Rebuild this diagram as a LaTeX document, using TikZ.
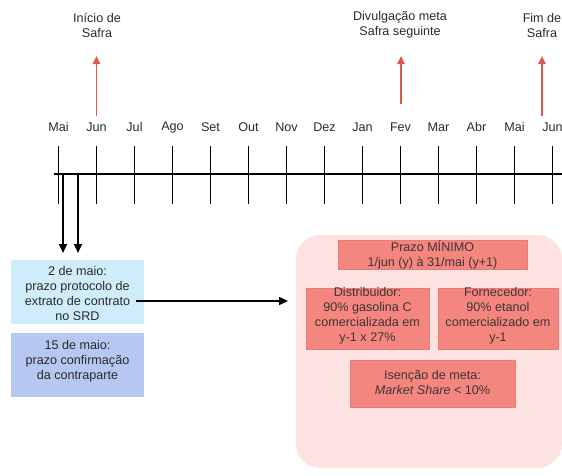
\documentclass[tikz,border=0pt]{standalone}
\usepackage{fontspec}
\setmainfont{Liberation Sans}
\usetikzlibrary{arrows.meta}
\definecolor{inkgray}{HTML}{2A2A2A}
\definecolor{boxtext}{HTML}{3E3636}
\definecolor{sky}{HTML}{CFECFA}
\definecolor{periwinkle}{HTML}{B6C7F2}
\definecolor{salmon}{HTML}{F4857F}
\definecolor{salmonedge}{HTML}{E97A74}
\definecolor{blush}{HTML}{FCE3E1}
\definecolor{alertred}{HTML}{DE5A50}
\newcommand{\txtsize}{\fontsize{12.6}{15}\selectfont}
\begin{document}
\begin{tikzpicture}[x=1pt,y=-1pt,
  every node/.style={inner sep=0pt, outer sep=0pt},
  month/.style={font=\txtsize, text=inkgray},
  toplabel/.style={font=\txtsize, text=inkgray, align=center},
  txt/.style={font=\txtsize, text=inkgray, align=center},
  pinktxt/.style={font=\txtsize, text=boxtext, align=center},
  tick/.style={line width=1.8pt, black},
  axis/.style={line width=1.8pt, black},
  redarrow/.style={line width=1.4pt, alertred, -{Triangle[length=8pt,width=7.5pt]}},
  blackarrow/.style={line width=1.6pt, black, -{Triangle[length=9pt,width=8pt]}},
  deadline/.style={draw=none, minimum width=133pt, minimum height=64pt},
  redbox/.style={fill=salmon, draw=salmonedge, line width=0.6pt}
]
\useasboundingbox (0,0) rectangle (562,475);

% time axis
\coordinate (axstart) at (54,174);
\coordinate (axend) at (562,174);
\draw[axis] (axstart) -- (axend);

% month ticks and names
\foreach \m [count=\i from 0] in {Mai,Jun,Jul,Ago,Set,Out,Nov,Dez,Jan,Fev,Mar,Abr,Mai,Jun}{
  \pgfmathsetmacro{\xx}{58.5+38*\i}
  \coordinate (t\i) at (\xx,146);
  \coordinate (b\i) at (\xx,204);
  \draw[tick] (t\i) -- (b\i);
  \node[month] (m\i) at (\xx,127) {\m};
}

% milestones above the axis
\node[toplabel] (inicio) at (97,25) {Início de\\Safra};
\node[toplabel] (divulg) at (400,25) {Divulgação meta\\Safra seguinte};
\node[toplabel] (fim) at (542,25) {Fim de\\Safra};
\coordinate (ia) at (96.5,116);
\coordinate (ib) at (96.5,56);
\coordinate (da) at (401,104);
\coordinate (db) at (401,56);
\coordinate (fa) at (542,116);
\coordinate (fb) at (542,56);
\draw[redarrow] (ia) -- (ib);
\draw[redarrow] (da) -- (db);
\draw[redarrow] (fa) -- (fb);

% May deadlines
\node[deadline, fill=sky] (srd) at (77.5,292) {};
\node[txt] (srdtxt) at (77.5,293.5) {2 de maio:\\prazo protocolo de\\extrato de contrato\\no SRD};
\node[deadline, fill=periwinkle] (conf) at (77.5,365) {};
\node[txt] (conftxt) at (77.5,361) {15 de maio:\\prazo confirmação\\da contraparte};

\coordinate (d2a) at (63,174);
\coordinate (d15a) at (78,174);
\draw[blackarrow] (d2a) -- (d2a |- 0,253);
\draw[blackarrow] (d15a) -- (d15a |- 0,253);

% contract conditions panel
\node[fill=blush, rounded corners=24pt, minimum width=266pt, minimum height=233pt] (panel) at (429,351.5) {};
\node[redbox, minimum width=189pt, minimum height=29pt] (prazo) at (432.5,254.5) {};
\node[pinktxt] at (prazo) {Prazo MÍNIMO\\1/jun (y) à 31/mai (y+1)};
\node[redbox, minimum width=123pt, minimum height=61pt] (dist) at (367.5,318.5) {};
\node[pinktxt] at (367.5,315.5) {Distribuidor:\\90\% gasolina C\\comercializada em\\y-1 x 27\%};
\node[redbox, minimum width=120pt, minimum height=61pt] (forn) at (498,318.5) {};
\node[pinktxt] at (498,315.5) {Fornecedor:\\90\% etanol\\comercializado em\\y-1};
\node[redbox, minimum width=165pt, minimum height=47pt] (isen) at (432.5,383.5) {};
\node[pinktxt] at (432.5,382.5) {Isenção de meta:\\\textit{Market Share} < 10\%};

% link from the protocol deadline to the panel
\coordinate (srdout) at (136,301);
\draw[blackarrow] (srdout) -- ([xshift=-8pt]srdout -| panel.west);
\end{tikzpicture}
\end{document}
